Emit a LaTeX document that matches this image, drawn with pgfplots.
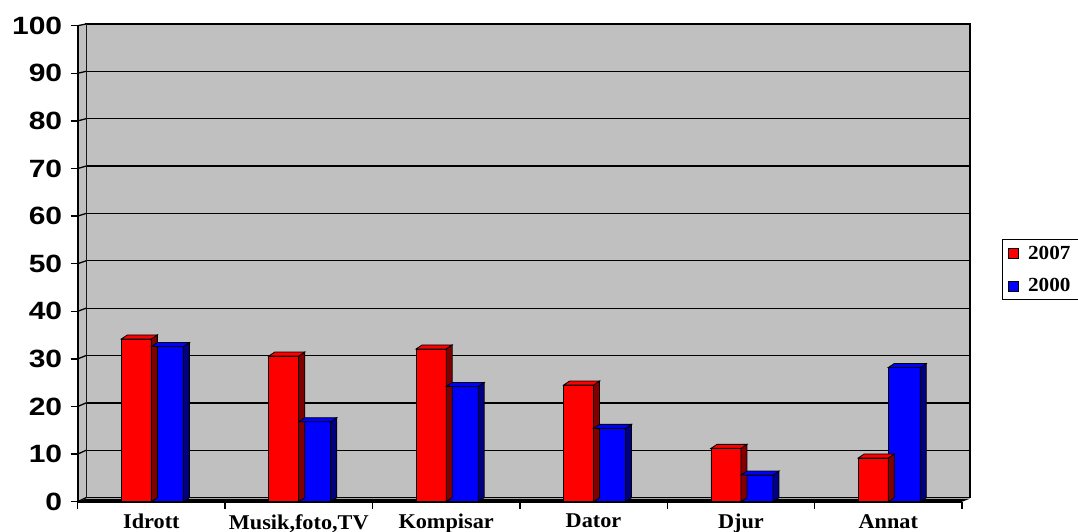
\documentclass[border=0pt]{standalone}
\usepackage{fontspec}
\setmainfont{Liberation Serif}[FakeStretch=1.06]
\newfontfamily\ysans{Liberation Sans}[FakeStretch=1.2]
\usepackage{pgfplots}
\pgfplotsset{compat=1.18}
\definecolor{wallgray}{RGB}{192,192,192}
\definecolor{darkred}{RGB}{128,0,0}
\definecolor{darkblue}{RGB}{0,0,128}

% 3D top and side faces of a bar, drawn at the data point (category centre, value)
\newcommand\declarebox[5]{%
  \pgfdeclareplotmark{#1}{%
    \pgfmathsetmacro\hh{\yv*4.76}%
    \pgfsetlinewidth{0.8bp}%
    \pgfsetstrokecolor{black}%
    \pgfsetfillcolor{#5}%
    \pgfpathmoveto{\pgfpoint{#3bp}{0bp}}%
    \pgfpathlineto{\pgfpoint{#3bp+6bp}{4bp}}%
    \pgfpathlineto{\pgfpoint{#3bp+6bp}{4bp-\hh bp}}%
    \pgfpathlineto{\pgfpoint{#3bp}{-\hh bp}}%
    \pgfpathclose
    \pgfusepath{fill,stroke}%
    \pgfsetfillcolor{#4}%
    \pgfpathmoveto{\pgfpoint{#2bp}{0bp}}%
    \pgfpathlineto{\pgfpoint{#3bp}{0bp}}%
    \pgfpathlineto{\pgfpoint{#3bp+6bp}{4bp}}%
    \pgfpathlineto{\pgfpoint{#2bp+6bp}{4bp}}%
    \pgfpathclose
    \pgfusepath{fill,stroke}%
  }}
\declarebox{boxred}{-30}{0}{red}{darkred}
\declarebox{boxblue}{0}{32}{blue}{darkblue}

\begin{document}
\begin{tikzpicture}
% back wall
\begin{axis}[
  name=back, at={(86bp,34.3bp)}, anchor=south west, scale only axis,
  width=884bp, height=473.7bp, xmin=0, xmax=1, ymin=0, ymax=100,
  axis background/.style={fill=wallgray},
  axis line style={line width=1.3bp},
  xtick=\empty, ytick={10,20,...,90}, yticklabels={}, major tick length=0pt,
  ymajorgrids, grid style={line width=1.3bp, black},
]
\end{axis}
% left wall and floor
\fill[wallgray] (77.7bp,30.3bp) -- (86bp,34.3bp) -- (86bp,508bp) -- (77.7bp,506.3bp) -- cycle;
\fill[black] (77.7bp,30.3bp) -- (962bp,30.3bp) -- (970bp,33.3bp) -- (86bp,33.3bp) -- cycle;
\foreach \t in {0,10,...,100}{%
  \pgfmathsetmacro\ya{30.3+\t*4.76}%
  \pgfmathsetmacro\yb{34.3+\t*4.737}%
  \draw[line width=1.3bp] (77.7bp,\ya bp) -- (86bp,\yb bp);
}
% front axis with bars
\begin{axis}[
  name=front, at={(77.7bp,30.3bp)}, anchor=south west,
  scale only axis, width=884.3bp, height=476bp,
  xmin=-0.5, xmax=5.5, ymin=0, ymax=100,
  axis lines*=left, axis line style={line width=1.8bp},
  clip=false,
  tick align=outside, major tick length=7bp,
  tick style={line width=1.3bp, black},
  ytick={0,10,...,100},
  xtick={-0.5,0.5,1.5,2.5,3.5,4.5,5.5}, xticklabels={},
  extra x ticks={0,1,2,3,4,5},
  extra x tick labels={Idrott,{Musik,foto,TV},Kompisar,Dator,Djur,Annat},
  extra x tick style={major tick length=0pt},
  xticklabel style={font=\bfseries\fontsize{21bp}{25bp}\selectfont, yshift=-9bp},
  yticklabel style={font=\ysans\bfseries\fontsize{25bp}{30bp}\selectfont, xshift=-5bp},
  /pgf/number format/assume math mode=true,
  legend style={at={(1.0449,0.5513)}, anchor=north west, draw=black, line width=1.2bp,
    font=\bfseries\fontsize{20bp}{24bp}\selectfont, row sep=14bp, column sep=7bp,
    inner xsep=6bp, inner ysep=4bp},
  legend cell align=left,
]
\addplot[ybar, bar width=30bp, bar shift=-15bp, fill=red, draw=black, line width=0.8bp,
  legend image code/.code={\draw[fill=red, draw=black, line width=0.8bp] (0bp,-5bp) rectangle (10bp,5bp);}]
  coordinates {(0,34.2) (1,30.6) (2,32.1) (3,24.5) (4,11.2) (5,9.2)};
\addlegendentry{2007}
\addplot[scatter, only marks, mark=boxred, forget plot,
  visualization depends on={rawy \as \yv}]
  coordinates {(0,34.2) (1,30.6) (2,32.1) (3,24.5) (4,11.2) (5,9.2)};
\addplot[ybar, bar width=32bp, bar shift=16bp, fill=blue, draw=black, line width=0.8bp,
  legend image code/.code={\draw[fill=blue, draw=black, line width=0.8bp] (0bp,-5bp) rectangle (10bp,5bp);}]
  coordinates {(0,32.6) (1,16.8) (2,24.2) (3,15.4) (4,5.6) (5,28.2)};
\addlegendentry{2000}
\addplot[scatter, only marks, mark=boxblue, forget plot,
  visualization depends on={rawy \as \yv}]
  coordinates {(0,32.6) (1,16.8) (2,24.2) (3,15.4) (4,5.6) (5,28.2)};
\end{axis}
\pgfresetboundingbox
\path[use as bounding box] (0,0) rectangle (1078bp,532bp);
\end{tikzpicture}
\end{document}
